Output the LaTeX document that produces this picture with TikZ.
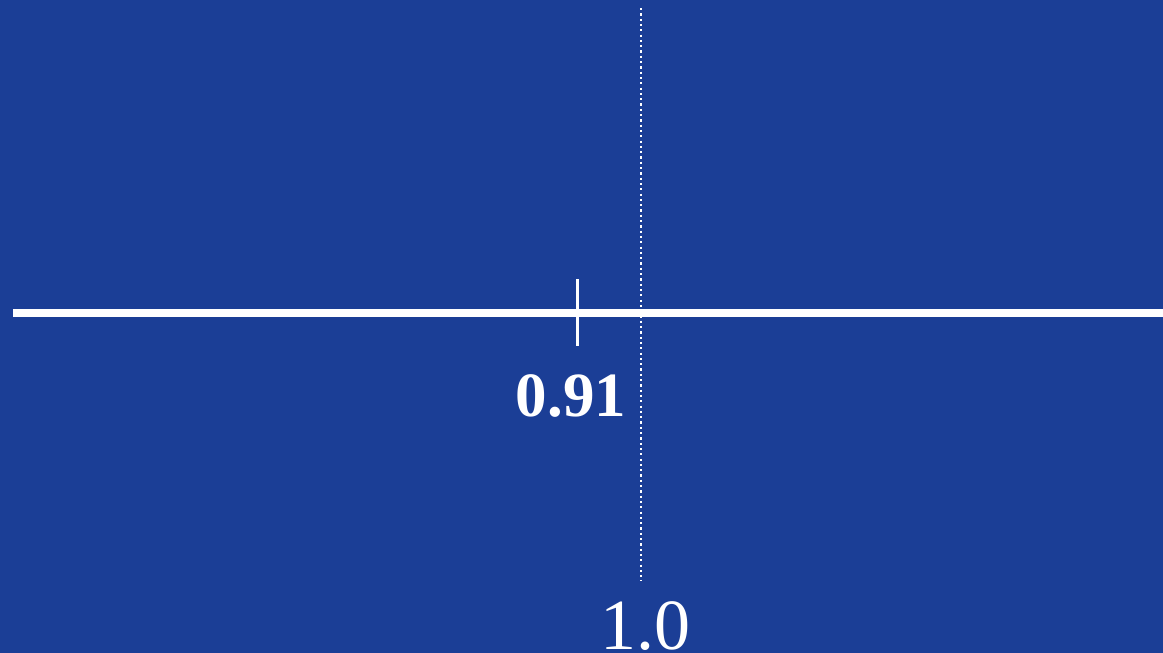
\documentclass[tikz,border=0pt]{standalone}
\usepackage{fontspec}
\setmainfont{Liberation Serif}
\usetikzlibrary{positioning}
\definecolor{bgblue}{RGB}{27, 62, 150}

\begin{document}
\begin{tikzpicture}[
        x=1pt, y=-1pt,
        axisline/.style={draw=white, line width=7.5pt},
        tickmark/.style={draw=white, line width=3pt},
        refline/.style={draw=white, line width=2.2pt, dash pattern=on 2.2pt off 3.1pt},
        valuelabel/.style={text=white, anchor=base, inner sep=0pt, font=\bfseries\fontsize{63}{63}\selectfont},
        reflabel/.style={text=white, anchor=base, inner sep=0pt, font=\fontsize{72}{72}\selectfont}
    ]
        \fill[bgblue] (0,0) rectangle (1163,653);
        \useasboundingbox (0,0) rectangle (1163,653);

        \coordinate (axisL) at (13,313);
        \coordinate (axisR) at (1163,313);
        \coordinate (tickT) at (577,279);
        \coordinate (tickB) at (577,346);
        \coordinate (refT) at (641,8);
        \coordinate (refB) at (641,581);

        \draw[axisline] (axisL) -- (axisR);
        \draw[tickmark] (tickT) -- (tickB);
        \draw[refline] (refT) -- (refB);

        \node[valuelabel] (estimate) at (571,416) {0.91};
        \node[reflabel] (reference) at (645,649) {1.0};
    \end{tikzpicture}
\end{document}
